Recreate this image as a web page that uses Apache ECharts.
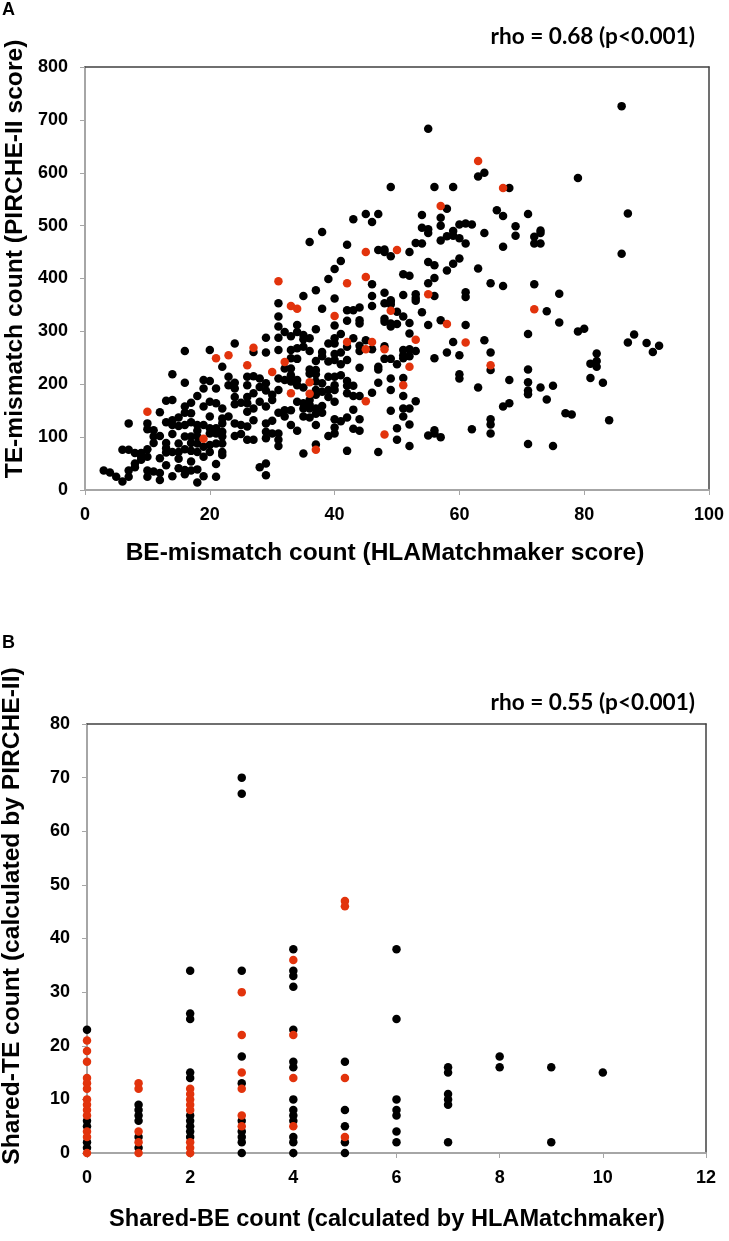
<!DOCTYPE html>
<html>
<head>
<meta charset="utf-8">
<style>
html, body { margin: 0; padding: 0; background: #fff; }
#main { width: 729px; height: 1241px; }
</style>
<script src="https://cdn.jsdelivr.net/npm/echarts@6/dist/echarts.min.js"></script>
</head>
<body>
<div id="main"></div>
<script>
// every row is [x, y, y, y ...]
var beTeBlack = [
  [3,37],[4,33],[5,25],[6,16,76],[7,37,25,76,126],[8,70,50,43],[9,70,63,57],
  [10,77,63,37,25,126,115],[11,35,89,101,113],[12,32,19,102,60,147],[13,79,89,71,128,47,169],
  [14,72,106,132,123,26,170,219],[15,72,88,137,121,59,41],[16,77,123,101,158,146,203,263,38,30],
  [17,128,101,165,145,89,74,54,37],[18,123,112,101,178,88,72,39,14],[19,123,158,192,208,82,63,26],
  [20,167,139,206,117,107,85,72,265],[21,164,192,117,107,88,49,25],[22,154,135,126,110,101,88,72,66,233],
  [23,214,198,139],[24,203,192,176,162,126,102,277],[25,165,123,106],[26,214,198,176,164,148,120,95],
  [27,215,183,154,132,95,261],[28,211,195,167,43],[29,202,188,158,50,28,98,110,126,288,260],
  [30,180,170,107,131],[31,189,107,95,83,146,353,328,309,288,265,211],[32,151,139,299,230,208],
  [33,151,123,291,265,249,230,217,205],[34,112,167,312,299,268,248,208,198],
  [35,367,293,285,271,194,164,154,139,69],[36,469,287,263,228,220,170,161,154,137],
  [37,378,304,244,227,219,205,189,180,154,144,123,86],[38,488,343,261,253,202,186,159,146],
  [39,399,277,243,214,189,176,102],[40,418,362,311,287,277,257,246,214,198,189,167,134,118,107],
  [41,433,295,260,238,217,130],[42,464,340,320,271,246,206,197,183,137,74],[43,512,340,287,197,178,152,116],
  [44,345,321,315,273,263,231,178,134,112],[45,522,283],[46,507,389,367,348,266,184],
  [47,522,454,233,228,203,72],[48,455,450,373,353,324,318,272,248],[49,573,442,359,356,351,315,309,248,211,189,150],
  [50,337,314,238,117,95],[51,408,369,328,265,255,249,212,178,154,139],[52,450,405,316,296,266,253,154,124,83],
  [53,467,370,363,358,263,168],[54,520,496,466,336],[55,683,493,486,431,391,312,103],
  [56,573,425,401,367,249,113,107],[57,515,500,472,321,100],[58,532,480,415,260],[59,573,490,481,428,280],
  [60,502,476,438,255,219,211],[61,504,466,374,365,312],[62,502,115],[63,593,419,194],[64,600,486,283],
  [65,391,260,227,134,124,107],[66,529],[67,518,460,386,158],[68,571,208,164],[69,499,481],
  [71,522,295,228,204,188,181,87],[72,479,466,389],[73,491,486,466,194],[74,338,171],[75,197,83],[76,371,317],
  [77,145],[78,143],[79,590,300],[80,305],[81,239,212],[82,258,244,233],[83,203],[84,132],[86,726,447],
  [87,523,279],[88,294],[90,278],[91,261],[92,273]
];
var beTeRed = [
  [10,148],[19,97],[21,249],[23,255],[26,236],[27,269],[30,223],[31,395],[32,242],[33,348,183],[34,343],
  [36,204,182],[37,76],[40,329],[42,391,280],[45,450,403,266,168],[46,280],[48,266,105],[49,339],[50,454],
  [51,198],[52,233],[53,284],[55,370],[57,537],[58,314],[61,279],[63,622],[65,236],[67,571],[72,342]
];
var sharedBlack = [
  [0,23,6,5,2,1],[1,9,8,7,6,3,1],[2,34,26,25,15,14,7,6,5,4,3],[3,70,67,34,18,13,6,4,3,2,0],
  [4,38,34,33,31,23,17,16,10,8,7,6,3,2,0],[5,17,8,5,2,0],[6,38,25,10,8,7,4,2],[7,16,15,11,10,9,2],
  [8,18,16],[9,16,2],[10,15]
];
var sharedRed = [
  [0,21,19,17,14,13,12,10,9,8,7,4,3,0],[1,13,12,4,2,0],[2,12,11,10,9,8,2,1,0],
  [3,30,22,15,12,7,5],[4,36,22,14,5],[5,47,46,14,3]
];
var titleA = 'BE-mismatch count (HLAMatchmaker score)';
var titleAy = 'TE-mismatch count (PIRCHE-II score)';
var titleB = 'Shared-BE count (calculated by HLAMatchmaker)';
var titleBy = 'Shared-TE count (calculated by PIRCHE-II)';
var rhoA = 'rho = 0.68 (p<0.001)';
var rhoB = 'rho = 0.55 (p<0.001)';

function flatten(rows) {
  var out = [];
  rows.forEach(function (r) {
    for (var i = 1; i < r.length; i++) out.push([r[0], r[i]]);
  });
  return out;
}

var grey = '#a6a6a6', dark = '#404040', red = '#e2330c';
var labelFont = { fontFamily: 'Liberation Sans', fontWeight: 'bold', fontSize: 18, color: '#000' };

function mainAxis(grid, max, step, pos, margin) {
  return {
    type: 'value', gridIndex: grid, min: 0, max: max, interval: step, position: pos,
    splitLine: { show: false },
    axisLine: { onZero: false, lineStyle: { color: grey, width: 2 } },
    axisTick: { length: 5, lineStyle: { color: grey, width: 1 } },
    axisLabel: Object.assign({ margin: margin }, labelFont)
  };
}
function frameAxis(grid, max, pos) {
  return {
    type: 'value', gridIndex: grid, min: 0, max: max, position: pos,
    splitLine: { show: false }, axisTick: { show: false }, axisLabel: { show: false },
    axisLine: { show: true, onZero: false, lineStyle: { color: dark, width: 1.5 } }
  };
}
function dots(xi, yi, rows, color) {
  return {
    type: 'scatter', xAxisIndex: xi, yAxisIndex: yi, data: flatten(rows),
    symbolSize: 8.5, itemStyle: { color: color, opacity: 1 }, silent: true, animation: false
  };
}
function bigText(text, x, y, size, rot) {
  return {
    type: 'text', x: x, y: y, rotation: rot ? Math.PI / 2 : 0,
    style: { text: text, fontFamily: 'Liberation Sans', fontWeight: 'bold', fontSize: size, fill: '#000', align: 'center', verticalAlign: 'middle' }
  };
}
function rhoText(text, x, y) {
  return {
    type: 'text', x: x, y: y,
    style: { text: text, fontFamily: 'Lato', fontWeight: 'bold', fontSize: 22.6, fill: '#000', align: 'right', verticalAlign: 'middle' }
  };
}
function panelLetter(text, x, y) {
  return {
    type: 'text', x: x, y: y,
    style: { text: text, fontFamily: 'Liberation Sans', fontWeight: 'bold', fontSize: 18, fill: '#000', align: 'left', verticalAlign: 'middle' }
  };
}

var chart = echarts.init(document.getElementById('main'));
chart.setOption({
  backgroundColor: '#fff',
  animation: false,
  grid: [
    { left: 85, top: 67, width: 624, height: 423 },
    { left: 87, top: 724, width: 619, height: 429 }
  ],
  xAxis: [
    mainAxis(0, 100, 20, 'bottom', 16),
    frameAxis(0, 100, 'top'),
    mainAxis(1, 12, 2, 'bottom', 16),
    frameAxis(1, 12, 'top')
  ],
  yAxis: [
    mainAxis(0, 800, 100, 'left', 17),
    frameAxis(0, 800, 'right'),
    mainAxis(1, 80, 10, 'left', 17),
    frameAxis(1, 80, 'right')
  ],
  series: [
    dots(0, 0, beTeBlack, '#000'),
    dots(0, 0, beTeRed, red),
    dots(2, 2, sharedBlack, '#000'),
    dots(2, 2, sharedRed, red)
  ],
  graphic: [
    panelLetter('A', 2, 10),
    panelLetter('B', 2, 643),
    rhoText(rhoA, 695, 37),
    rhoText(rhoB, 695, 703),
    bigText(titleA, 385, 553, 24.5),
    bigText(titleB, 387, 1219, 23.6),
    bigText(titleAy, 15, 259, 24.6, true),
    bigText(titleBy, 12, 916, 24.6, true)
  ]
});
</script>
</body>
</html>
